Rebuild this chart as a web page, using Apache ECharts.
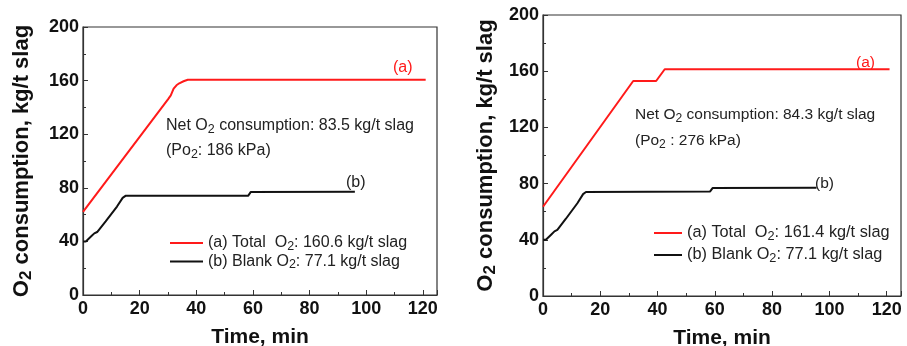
<!DOCTYPE html>
<html>
<head>
<meta charset="utf-8">
<script src="https://cdn.jsdelivr.net/npm/echarts@6/dist/echarts.min.js"></script>
<style>
  html, body { margin: 0; padding: 0; background: #fff; }
  #chart { width: 907px; height: 346px; }
</style>
</head>
<body>
<div id="chart"></div>
<script>
// 左图 (Po2 186 kPa)
const timeA1 = [0, 30, 31, 32, 33, 34, 35.5, 37, 121]
const o2A1   = [62, 146, 149, 154, 156.5, 158, 159.5, 160.6, 160.6]
const timeB1 = [0, 1, 3, 4, 5, 8, 12, 14, 15, 58.3, 59.2, 96]
const o2B1   = [40, 40, 44, 46, 47, 55, 66, 72.5, 74, 74, 76.8, 77.1]

// 右图 (Po2 276 kPa)
const timeA2 = [0, 31.5, 39.5, 42.5, 121]
const o2A2   = [63.5, 153, 153, 161.4, 161.4]
const timeB2 = [0, 1, 3, 4, 5, 8, 12, 14, 15, 58.3, 59.2, 95.5]
const o2B2   = [40, 40, 44, 46, 47, 55, 66, 72.5, 74, 74.3, 76.8, 77.1]

const xTicks = [0, 20, 40, 60, 80, 100, 120]
const yTicks = [0, 40, 80, 120, 160, 200]

const legendText = {
  a1: '{t|(a) Total  O}{s|2}{t|: 160.6 kg/t slag}',
  b1: '{t|(b) Blank O}{s|2}{t|: 77.1 kg/t slag}',
  a2: '{t|(a) Total  O}{s|2}{t|: 161.4 kg/t slag}',
  b2: '{t|(b) Blank O}{s|2}{t|: 77.1 kg/t slag}',
}

const zip = (xs, ys) => xs.map((x, i) => [x, ys[i]])

const FONT = 'Liberation Sans, Arial, sans-serif'
const richName = {
  b: { fontSize: 22, fontWeight: 'bold', fontFamily: FONT, color: '#111' },
  s: { fontSize: 17, fontWeight: 'bold', fontFamily: FONT, color: '#111', padding: [9, 0, 0, 0] },
}
function richTxt(size, color) {
  return {
    t: { fontSize: size, fontFamily: FONT, color, fill: color },
    s: { fontSize: size * 0.78, fontFamily: FONT, color, fill: color, padding: [7, 0, 0, 0] },
  }
}

function xAxisOpt(gi) {
  return {
    type: 'value', gridIndex: gi, min: 0, max: 125, interval: 20,
    name: 'Time, min', nameLocation: 'middle', nameGap: 32,
    nameTextStyle: { fontSize: 21, fontWeight: 'bold', fontFamily: FONT, color: '#111' },
    axisLine: { lineStyle: { color: '#333', width: 1.2 } },
    axisTick: { inside: true, length: 5, lineStyle: { color: '#333' } },
    minorTick: { show: true, splitNumber: 2, length: 3, lineStyle: { color: '#333' } },
    axisLabel: {
      fontSize: 18, fontWeight: 'bold', fontFamily: FONT, color: '#111', margin: 5,
      formatter: v => xTicks.includes(v) ? String(v) : '',
    },
    splitLine: { show: false },
  }
}

function yAxisOpt(gi, gap) {
  return {
    type: 'value', gridIndex: gi, min: 0, max: 200, interval: 40,
    name: '{b|O}{s|2}{b| consumption, kg/t slag}', nameLocation: 'middle', nameGap: gap,
    nameTextStyle: { rich: richName },
    axisLine: { show: true, lineStyle: { color: '#333', width: 1.2 } },
    axisTick: { show: true, inside: true, length: 5, lineStyle: { color: '#333' } },
    minorTick: { show: true, splitNumber: 2, length: 3, lineStyle: { color: '#333' } },
    axisLabel: {
      fontSize: 18, fontWeight: 'bold', fontFamily: FONT, color: '#111', margin: 4,
      formatter: v => yTicks.includes(v) ? String(v) : '',
    },
    splitLine: { show: false },
  }
}

function lineSeries(name, gi, xs, ys, color) {
  return {
    name, type: 'line', xAxisIndex: gi, yAxisIndex: gi,
    data: zip(xs, ys), symbol: 'none', smooth: false,
    lineStyle: { color, width: 2 }, itemStyle: { color },
  }
}

function legendOpt(names, left, top, size, w, gap) {
  return {
    data: names, orient: 'vertical', left, top, padding: 0,
    icon: 'rect', itemWidth: w, itemHeight: 2, itemGap: gap,
    formatter: n => legendText[n],
    textStyle: { rich: richTxt(size, '#222') },
  }
}

function txt(left, top, text, size, color) {
  return {
    type: 'text', left, top,
    style: { text, rich: richTxt(size, color || '#222') },
  }
}

const gridBase = { show: true, borderColor: '#333', borderWidth: 1.2, backgroundColor: 'transparent', containLabel: false, outerBoundsMode: 'none' }

const chart = echarts.init(document.getElementById('chart'))
chart.setOption({
  backgroundColor: '#fff',
  animation: false,
  grid: [
    Object.assign({ left: 83, top: 27, width: 354, height: 268 }, gridBase),
    Object.assign({ left: 543, top: 15, width: 358, height: 281 }, gridBase),
  ],
  xAxis: [xAxisOpt(0), xAxisOpt(1)],
  yAxis: [yAxisOpt(0, 48), yAxisOpt(1, 44)],
  legend: [
    legendOpt(['a1', 'b1'], 170, 235, 16, 33, 1),
    legendOpt(['a2', 'b2'], 654, 225, 16.3, 28, 4),
  ],
  series: [
    lineSeries('a1', 0, timeA1, o2A1, '#ff1a1a'),
    lineSeries('b1', 0, timeB1, o2B1, '#111'),
    lineSeries('a2', 1, timeA2, o2A2, '#ff1a1a'),
    lineSeries('b2', 1, timeB2, o2B2, '#111'),
  ],
  graphic: [
    txt(393, 60, '{t|(a)}', 16, '#ff1a1a'),
    txt(346, 175, '{t|(b)}', 16),
    txt(166, 118, '{t|Net O}{s|2}{t| consumption: 83.5 kg/t slag}', 16),
    txt(166, 143, '{t|(Po}{s|2}{t|: 186 kPa)}', 16),
    txt(856, 55, '{t|(a)}', 15.5, '#ff1a1a'),
    txt(815, 176, '{t|(b)}', 15.5),
    txt(635, 107, '{t|Net O}{s|2}{t| consumption: 84.3 kg/t slag}', 15.5),
    txt(635, 133, '{t|(Po}{s|2}{t| : 276 kPa)}', 15.5),
  ],
})
</script>
</body>
</html>
